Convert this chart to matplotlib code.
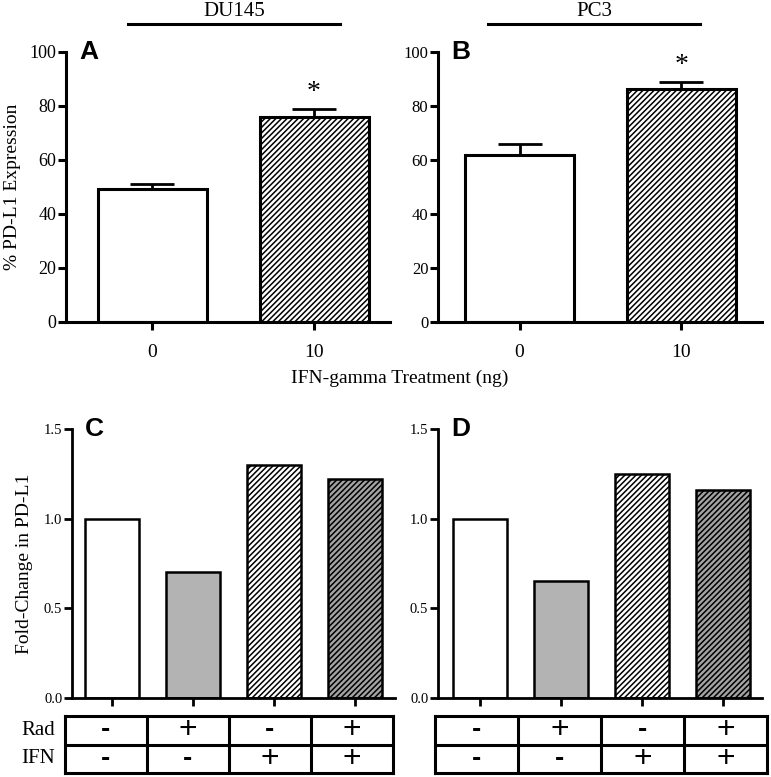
import matplotlib
matplotlib.use("Agg")
import matplotlib.pyplot as plt
import numpy as np

plt.rcParams['font.family'] = ['Liberation Serif', 'DejaVu Serif']
plt.rcParams['hatch.linewidth'] = 1.1

# top panels: % PD-L1 expression vs IFN-gamma dose
dose_labels = ['0', '10']
du145_pct = [49.3, 75.9]
du145_err = [1.8, 3.0]
pc3_pct = [61.9, 86.3]
pc3_err = [4.0, 2.6]

# bottom panels: fold change for rad/IFN combinations
du145_fold = [1.0, 0.70, 1.30, 1.22]
pc3_fold = [1.0, 0.65, 1.25, 1.16]
rad_signs = ['-', '+', '-', '+']
ifn_signs = ['-', '-', '+', '+']

top_face = ['white', 'white']
top_hatch = [None, '//////']
bot_face = ['white', '#b3b3b3', 'white', '#a3a3a3']
bot_hatch = [None, None, '//////', '//////']

W, H = 771, 777
fig = plt.figure(figsize=(W / 100, H / 100), dpi=100)


def px(l, t, r, b):
    return [l / W, 1 - b / H, (r - l) / W, (b - t) / H]


def style_axes(ax, lw=2.0):
    for s in ['top', 'right']:
        ax.spines[s].set_visible(False)
    for s in ['left', 'bottom']:
        ax.spines[s].set_linewidth(lw)
    ax.tick_params(width=lw, length=6)


def top_panel(rect, vals, errs, letter, xlim, tick_fs):
    ax = fig.add_axes(rect)
    x = np.arange(len(vals))
    ax.bar(x, vals, width=0.675, color=top_face, hatch=top_hatch,
           edgecolor='black', linewidth=2.2, zorder=2)
    ax.errorbar(x, vals, yerr=[np.zeros(len(errs)), errs], fmt='none',
                ecolor='black', elinewidth=2, capsize=16, capthick=2, zorder=1)
    # significance star on the treated bar
    ax.text(x[1], vals[1] + errs[1] + 1.5, '*', ha='center', va='bottom',
            fontsize=20)
    ax.set_ylim(0, 100)
    ax.set_xlim(*xlim)
    ax.set_yticks([0, 20, 40, 60, 80, 100])
    ax.set_xticks(x)
    ax.set_xticklabels(dose_labels, fontsize=14)
    ax.tick_params(axis='y', labelsize=tick_fs, pad=1)
    ax.tick_params(axis='x', pad=10)
    style_axes(ax, 2.2)
    ax.text(0.04, 1.0, letter, transform=ax.transAxes, fontsize=19,
            fontweight='bold', family='Liberation Sans', va='center', ha='left')
    return ax


def bottom_panel(rect, vals, letter, xlim):
    ax = fig.add_axes(rect)
    x = np.arange(len(vals))
    ax.bar(x, vals, width=0.67, color=bot_face, hatch=bot_hatch,
           edgecolor='black', linewidth=1.8, zorder=2)
    ax.set_ylim(0, 1.5)
    ax.set_xlim(*xlim)
    ax.set_yticks([0, 0.5, 1.0, 1.5])
    ax.set_yticklabels(['0.0', '0.5', '1.0', '1.5'])
    ax.set_xticks(x)
    ax.set_xticklabels([])
    ax.tick_params(axis='y', labelsize=10.5, pad=1)
    style_axes(ax, 2.0)
    ax.text(0.04, 1.0, letter, transform=ax.transAxes, fontsize=19,
            fontweight='bold', family='Liberation Sans', va='center', ha='left')
    return ax


def put_sign(t, xc, yc, s):
    if s == '-':
        t.text(xc, yc, s, ha='center', va='center', fontsize=20,
               fontweight='bold', family='Liberation Sans')
    else:
        t.text(xc, yc, s, ha='center', va='center', fontsize=23,
               family='Liberation Sans')


def sign_table(rect, with_labels):
    t = fig.add_axes(rect)
    t.set_xlim(0, 4)
    t.set_ylim(0, 2)
    t.set_xticks([])
    t.set_yticks([])
    for s in t.spines.values():
        s.set_linewidth(2.2)
    for c in range(1, 4):
        t.axvline(c, color='black', lw=2.2)
    t.axhline(1, color='black', lw=2.2)
    for i in range(4):
        put_sign(t, i + 0.5, 1.5, rad_signs[i])
        put_sign(t, i + 0.5, 0.5, ifn_signs[i])
    if with_labels:
        t.text(-0.12, 1.5, 'Rad', ha='right', va='center', fontsize=15)
        t.text(-0.12, 0.5, 'IFN', ha='right', va='center', fontsize=15)
    return t


axA = top_panel(px(66, 52, 390, 322), du145_pct, du145_err, 'A', (-0.535, 1.47), 13)
axA.set_ylabel('% PD-L1 Expression', fontsize=14, labelpad=6)
axB = top_panel(px(438, 52, 762, 322), pc3_pct, pc3_err, 'B', (-0.505, 1.5), 12)

fig.text(400 / W, 1 - 378 / H, 'IFN-gamma Treatment (ng)', ha='center',
         va='center', fontsize=14)

axC = bottom_panel(px(72, 429, 395, 698), du145_fold, 'C', (-0.49, 3.49))
axC.set_ylabel('Fold-Change in PD-L1', fontsize=14, labelpad=8)
axD = bottom_panel(px(438, 429, 762, 698), pc3_fold, 'D', (-0.52, 3.48))

sign_table(px(65, 716, 393, 773), True)
sign_table(px(435, 716, 767, 773), False)

# cell line headers with bars
for name, xc, x0, x1 in [('DU145', 234, 128, 340), ('PC3', 594, 488, 700)]:
    fig.text(xc / W, 1 - 11 / H, name, ha='center', va='center', fontsize=15)
    fig.add_artist(plt.Line2D([x0 / W, x1 / W], [1 - 24 / H, 1 - 24 / H],
                              color='black', lw=2.2, transform=fig.transFigure))

fig.savefig('out.png', dpi=100)
